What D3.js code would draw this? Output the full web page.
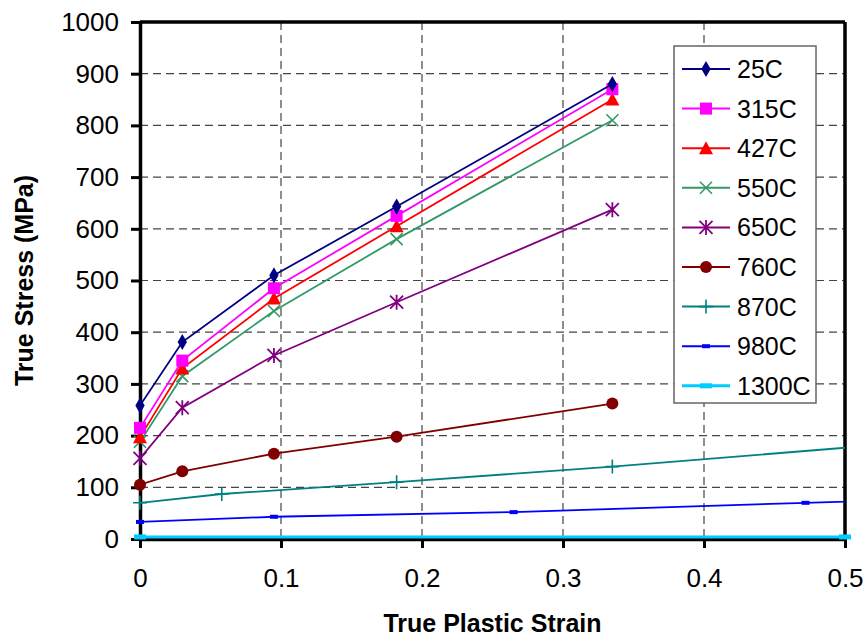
<!DOCTYPE html>
<html>
<head>
<meta charset="utf-8">
<script src="https://cdn.jsdelivr.net/npm/d3@7/dist/d3.min.js"></script>
<style>
  html, body { margin: 0; padding: 0; background: #fff; }
  svg { display: block; font-family: "Liberation Sans", Arial, sans-serif; }
</style>
</head>
<body>
<svg id="chart" width="865" height="637"></svg>
<script>
// ---- data ----
const strain = [0, 0.03, 0.095, 0.182, 0.335];
const s25  = [258, 381, 510, 643, 880];
const s315 = [215, 345, 485, 625, 870];
const s427 = [197, 330, 465, 605, 850];
const s550 = [188, 315, 441, 580, 810];
const s650 = [156, 254, 355, 458, 637];
const s760 = [105, 131, 165, 198, 262];
const strain870 = [0, 0.058, 0.182, 0.335, 0.62];
const s870 = [70, 87, 110, 140, 203];
const strain980 = [0, 0.095, 0.265, 0.472, 0.75];
const s980 = [33, 43, 52, 70, 93];
const strain1300 = [0, 0.5, 0.9];
const s1300 = [4, 4, 4];
const seriesNames = ["25C", "315C", "427C", "550C", "650C", "760C", "870C", "980C", "1300C"];
const xTicks = [0, 0.1, 0.2, 0.3, 0.4, 0.5];
const yTicks = [0, 100, 200, 300, 400, 500, 600, 700, 800, 900, 1000];

const series = [
  {name: "25C",   xs: strain,     ys: s25,   color: "#000080", marker: "diamond"},
  {name: "315C",  xs: strain,     ys: s315,  color: "#FF00FF", marker: "square"},
  {name: "427C",  xs: strain,     ys: s427,  color: "#FF0000", marker: "triangle"},
  {name: "550C",  xs: strain,     ys: s550,  color: "#339966", marker: "x"},
  {name: "650C",  xs: strain,     ys: s650,  color: "#800080", marker: "star"},
  {name: "760C",  xs: strain,     ys: s760,  color: "#800000", marker: "circle"},
  {name: "870C",  xs: strain870,  ys: s870,  color: "#008080", marker: "plus"},
  {name: "980C",  xs: strain980,  ys: s980,  color: "#0000FF", marker: "dash"},
  {name: "1300C", xs: strain1300, ys: s1300, color: "#00CCFF", marker: "bigdash"}
];

// ---- layout ----
const svg = d3.select("#chart");
const L = 140, R = 845, T = 22, B = 539;
const x = d3.scaleLinear().domain([0, 0.5]).range([L, R]);
const y = d3.scaleLinear().domain([0, 1000]).range([B, T]);

svg.append("defs").append("clipPath").attr("id", "clip")
  .append("rect").attr("x", L).attr("y", T).attr("width", R - L).attr("height", B - T);

// grid
const grid = svg.append("g");
grid.selectAll("line.gx").data(xTicks.filter(d => d > 0 && d < 0.5)).enter().append("line")
  .attr("x1", d => x(d)).attr("x2", d => x(d)).attr("y1", T).attr("y2", B)
  .attr("stroke", "#444").attr("stroke-width", 1.2).attr("stroke-dasharray", "8,5");
grid.selectAll("line.gy").data(yTicks.filter(d => d > 0 && d < 1000)).enter().append("line")
  .attr("x1", L).attr("x2", R).attr("y1", d => y(d)).attr("y2", d => y(d))
  .attr("stroke", "#444").attr("stroke-width", 1.2).attr("stroke-dasharray", "8,5");

// axes
const yAxis = svg.append("g").attr("transform", `translate(${L},0)`)
  .call(d3.axisLeft(y).tickValues(yTicks).tickSize(9).tickSizeOuter(0).tickPadding(12).tickFormat(d3.format("d")));
const xAxis = svg.append("g").attr("transform", `translate(0,${B})`)
  .call(d3.axisBottom(x).tickValues(xTicks).tickSize(9).tickSizeOuter(0).tickPadding(21).tickFormat(d => d === 0 ? "0" : d3.format(".1f")(d)));
[xAxis, yAxis].forEach(a => {
  a.select(".domain").attr("stroke", "#000").attr("stroke-width", 3.5);
  a.selectAll(".tick line").attr("stroke", "#000").attr("stroke-width", 3);
  a.selectAll(".tick text").attr("fill", "#000").attr("font-size", 26)
    .attr("font-family", "Liberation Sans, Arial, sans-serif");
});
// top & right frame
svg.append("line").attr("x1", L).attr("x2", R).attr("y1", T).attr("y2", T).attr("stroke", "#000").attr("stroke-width", 3.5);
svg.append("line").attr("x1", R).attr("x2", R).attr("y1", T).attr("y2", B).attr("stroke", "#000").attr("stroke-width", 3.5);

// titles
svg.append("text").attr("x", (L + R) / 2).attr("y", 632).attr("text-anchor", "middle")
  .attr("font-weight", "bold").attr("font-size", 25).text("True Plastic Strain");
svg.append("text").attr("transform", `translate(33,${(T + B) / 2}) rotate(-90)`).attr("text-anchor", "middle")
  .attr("font-weight", "bold").attr("font-size", 25).text("True Stress (MPa)");

// markers
function drawMarker(g, type, color, cx, cy, scale) {
  const s = scale || 1;
  if (type === "diamond") {
    g.append("path").attr("d", d3.symbol(d3.symbolDiamond, 75 * s)()).attr("transform", `translate(${cx},${cy})`).attr("fill", color);
  } else if (type === "square") {
    g.append("rect").attr("x", cx - 6 * s).attr("y", cy - 6 * s).attr("width", 12 * s).attr("height", 12 * s).attr("fill", color);
  } else if (type === "triangle") {
    g.append("path").attr("d", `M${cx},${cy - 7 * s}L${cx + 7 * s},${cy + 6 * s}L${cx - 7 * s},${cy + 6 * s}Z`).attr("fill", color);
  } else if (type === "x") {
    const r = 6 * s;
    g.append("path").attr("d", `M${cx - r},${cy - r}L${cx + r},${cy + r}M${cx - r},${cy + r}L${cx + r},${cy - r}`)
      .attr("stroke", color).attr("stroke-width", 1.6).attr("fill", "none");
  } else if (type === "star") {
    const r = 6.5 * s;
    g.append("path").attr("d", `M${cx - r},${cy - r}L${cx + r},${cy + r}M${cx - r},${cy + r}L${cx + r},${cy - r}M${cx},${cy - r - 1}L${cx},${cy + r + 1}`)
      .attr("stroke", color).attr("stroke-width", 1.8).attr("fill", "none");
  } else if (type === "circle") {
    g.append("circle").attr("cx", cx).attr("cy", cy).attr("r", 6 * s).attr("fill", color);
  } else if (type === "plus") {
    const r = 7 * s;
    g.append("path").attr("d", `M${cx - r},${cy}L${cx + r},${cy}M${cx},${cy - r}L${cx},${cy + r}`)
      .attr("stroke", color).attr("stroke-width", 1.6).attr("fill", "none");
  } else if (type === "dash") {
    g.append("rect").attr("x", cx - 4 * s).attr("y", cy - 2 * s).attr("width", 8 * s).attr("height", 4 * s).attr("fill", color);
  } else if (type === "bigdash") {
    g.append("rect").attr("x", cx - 6 * s).attr("y", cy - 2.5 * s).attr("width", 12 * s).attr("height", 5 * s).attr("fill", color);
  }
}

const line = d3.line().x(d => x(d[0])).y(d => y(d[1]));
const plot = svg.append("g");
series.slice().reverse().forEach(s => {
  const pts = s.xs.map((v, i) => [v, s.ys[i]]);
  plot.append("path").datum(pts).attr("d", line).attr("fill", "none")
    .attr("stroke", s.color).attr("stroke-width", s.name === "1300C" ? 3 : 1.8)
    .attr("clip-path", "url(#clip)");
  const mg = plot.append("g");
  pts.filter(p => p[0] <= 0.5).forEach(p => drawMarker(mg, s.marker, s.color, x(p[0]), y(p[1])));
});

// legend
const lg = svg.append("g");
const lx = 674, ly = 46, lw = 142, lh = 357;
lg.append("rect").attr("x", lx).attr("y", ly).attr("width", lw).attr("height", lh)
  .attr("fill", "#fff").attr("stroke", "#666").attr("stroke-width", 1.5);
series.forEach((s, i) => {
  const cy = 69 + i * 39.6;
  lg.append("line").attr("x1", 682).attr("x2", 730).attr("y1", cy).attr("y2", cy)
    .attr("stroke", s.color).attr("stroke-width", s.name === "1300C" ? 3 : 2);
  drawMarker(lg, s.marker, s.color, 706, cy);
  lg.append("text").attr("x", 737).attr("y", cy).attr("dy", "0.36em")
    .attr("font-size", 25).attr("fill", "#000").text(seriesNames[i]);
});
</script>
</body>
</html>
